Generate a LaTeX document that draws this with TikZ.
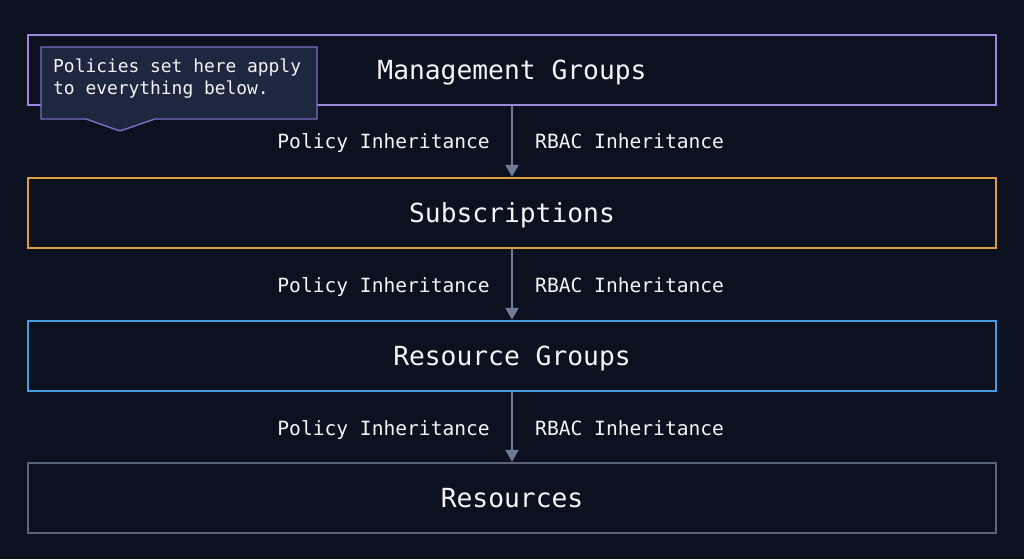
\documentclass[tikz,border=0pt]{standalone}
\usepackage{fontspec}
\setmonofont{DejaVu Sans Mono}
\usetikzlibrary{arrows.meta}
\definecolor{bg}{HTML}{0C1120}
\definecolor{cpurple}{HTML}{9B88DC}
\definecolor{corange}{HTML}{E09A40}
\definecolor{cblue}{HTML}{4A9CE0}
\definecolor{cgray}{HTML}{5A6579}
\definecolor{carrow}{HTML}{6E7C99}
\definecolor{callfill}{HTML}{1E2740}
\definecolor{callline}{HTML}{7A6FC4}
\definecolor{txt}{HTML}{F4F4F4}
\begin{document}
\begin{tikzpicture}[x=1pt,y=-1pt,
  tier/.style={draw=#1,line width=2.4pt,minimum width=968pt,minimum height=70pt,inner sep=0pt},
  tiertext/.style={text=txt,font=\ttfamily\fontsize{26.3}{30}\selectfont,inner sep=0pt,anchor=base},
  lbl/.style={text=txt,font=\ttfamily\fontsize{19.6}{23}\selectfont,inner sep=0pt,anchor=base},
  flow/.style={draw=carrow,line width=2pt,-{Triangle[width=13pt,length=12pt]}}
]
\fill[bg] (0,0) rectangle (1024,559);
\useasboundingbox (0,0) rectangle (1024,559);
\node[tier=cpurple] (mg) at (512,70) {};
\node[tier=corange] (sub) at (512,213) {};
\node[tier=cblue] (rg) at (512,356) {};
\node[tier=cgray] (res) at (512,498) {};
\node[tiertext] (mgt) at (512,79.5) {Management Groups};
\node[tiertext] (subt) at (512,222.5) {Subscriptions};
\node[tiertext] (rgt) at (512,365.5) {Resource Groups};
\node[tiertext] (rest) at (512,507.5) {Resources};
\draw[flow] (mg.south) -- (sub.north);
\draw[flow] (sub.south) -- (rg.north);
\draw[flow] (rg.south) -- (res.north);
\foreach \n/\y in {p1/148,p2/292,p3/435}{
  \node[lbl,anchor=base east] (\n) at (490,\y) {Policy Inheritance};
}
\foreach \n/\y in {r1/148,r2/292,r3/435}{
  \node[lbl,anchor=base west] (\n) at (535,\y) {RBAC Inheritance};
}
% callout
\draw[draw=callline,fill=callfill,line width=1.4pt]
  (41,47) -- (317,47) -- (317,119) -- (155,119) -- (120,131) -- (86,119) -- (41,119) -- cycle;
\node[text=txt,font=\ttfamily\fontsize{17.9}{22}\selectfont,anchor=base west,inner sep=0pt]
  (call) at (53,73) {Policies set here apply};
\node[text=txt,font=\ttfamily\fontsize{17.9}{22}\selectfont,anchor=base west,inner sep=0pt]
  (call2) at (53,95) {to everything below.};
\end{tikzpicture}
\end{document}
